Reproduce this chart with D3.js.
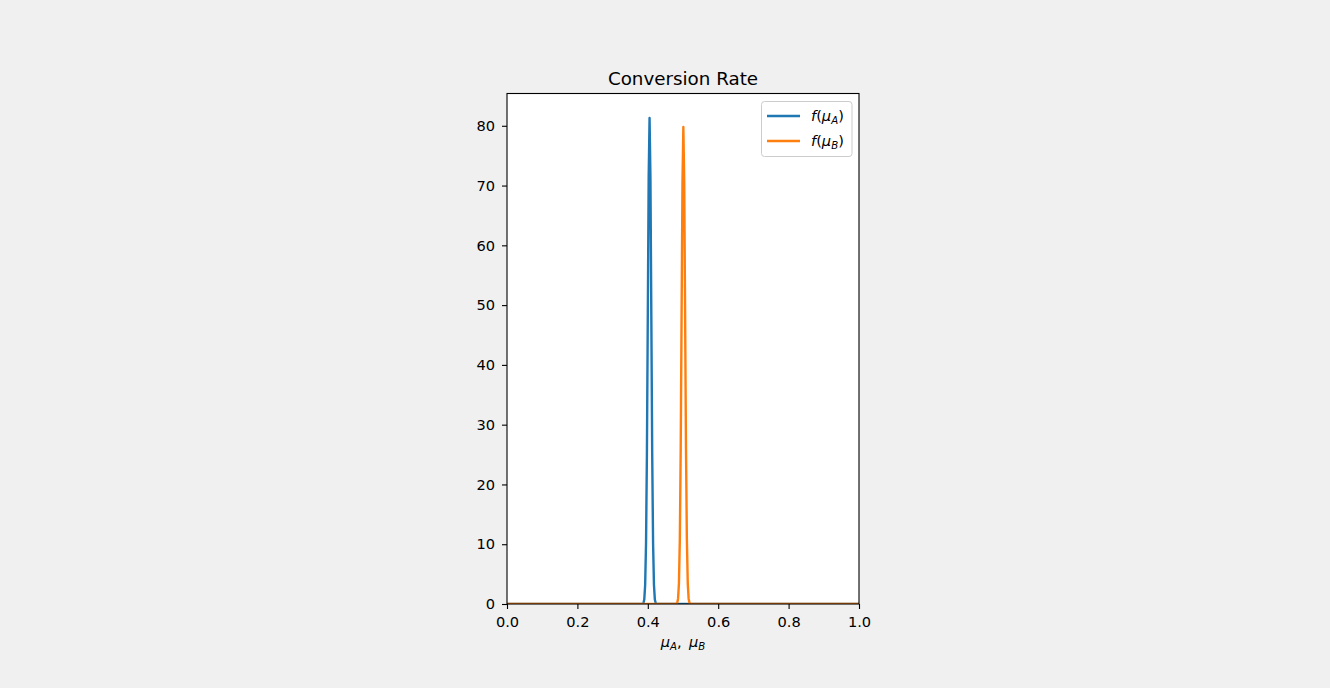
<!DOCTYPE html>
<html>
<head>
<meta charset="utf-8">
<script src="https://cdn.jsdelivr.net/npm/d3@7"></script>
<style>
  body { margin: 0; background: #f0f0f0; }
  svg { display: block; font-family: "DejaVu Sans", sans-serif; }
</style>
</head>
<body>
<div id="chart"></div>
<script>
"use strict";

const WIDTH = 1330;
const HEIGHT = 688;
const MARGIN = { left: 507, right: 1330 - 859, top: 93.5, bottom: 688 - 604 };
const TICK_FONT = "14.6px";
const SUB_FONT = "10.2px";

// Posterior density of conversion rate A
const seriesAX = [0, 0.385, 0.3875, 0.39, 0.3925, 0.395, 0.3975, 0.4, 0.4025, 0.405,
    0.4075, 0.41, 0.4125, 0.415, 0.4175, 0.42, 0.4225, 0.425, 1];
const seriesAY = [0, 0.02, 0.14, 0.75, 3.2, 10.2, 25.2, 48.3, 71.4, 81.3,
    71.4, 48.3, 25.2, 10.2, 3.2, 0.75, 0.14, 0.02, 0];

// Posterior density of conversion rate B
const seriesBX = [0, 0.481, 0.4835, 0.486, 0.4885, 0.491, 0.4935, 0.496, 0.4985, 0.501,
    0.5035, 0.506, 0.5085, 0.511, 0.5135, 0.516, 0.5185, 0.521, 1];
const seriesBY = [0, 0.03, 0.17, 0.89, 3.5, 10.8, 25.9, 48.4, 70.4, 79.8,
    70.4, 48.4, 25.9, 10.8, 3.5, 0.89, 0.17, 0.03, 0];

const xTicks = [0, 0.2, 0.4, 0.6, 0.8, 1.0];
const yTicks = [0, 10, 20, 30, 40, 50, 60, 70, 80];
const seriesNames = ["A", "B"];
const seriesColors = ["#1f77b4", "#ff7f0e"];

const svg = d3.select("#chart")
    .append("svg")
    .attr("width", WIDTH)
    .attr("height", HEIGHT);

const x = d3.scaleLinear()
    .domain([0, 1])
    .range([MARGIN.left, WIDTH - MARGIN.right]);

const y = d3.scaleLinear()
    .domain([0, 85.4])
    .range([HEIGHT - MARGIN.bottom, MARGIN.top]);

// Axes background
svg.append("rect")
    .attr("x", MARGIN.left)
    .attr("y", MARGIN.top)
    .attr("width", x(1) - x(0))
    .attr("height", y(0) - y(85.4))
    .attr("fill", "white");

const series = [
    seriesAX.map((v, i) => [v, seriesAY[i]]),
    seriesBX.map((v, i) => [v, seriesBY[i]])
];

const line = d3.line()
    .x(d => x(d[0]))
    .y(d => y(d[1]));

const plot = svg.append("g");
plot.append("clipPath")
    .attr("id", "clip")
    .append("rect")
    .attr("x", MARGIN.left)
    .attr("y", MARGIN.top)
    .attr("width", x(1) - x(0))
    .attr("height", y(0) - y(85.4));

plot.selectAll(".series")
    .data(series)
    .enter()
    .append("path")
    .classed("series", true)
    .attr("clip-path", "url(#clip)")
    .attr("d", line)
    .attr("fill", "none")
    .attr("stroke", (_, i) => seriesColors[i])
    .attr("stroke-width", 2.4)
    .attr("stroke-linejoin", "round");

// Axes
const xAxis = svg.append("g")
    .attr("transform", `translate(0, ${y(0)})`)
    .call(d3.axisBottom(x).tickValues(xTicks).tickFormat(d3.format(".1f")).tickSize(5).tickPadding(7.5));

const yAxis = svg.append("g")
    .attr("transform", `translate(${x(0)}, 0)`)
    .call(d3.axisLeft(y).tickValues(yTicks).tickFormat(d3.format("d")).tickSize(5).tickPadding(7));

[xAxis, yAxis].forEach(axis => {
    axis.select(".domain").remove();
    axis.selectAll("text")
        .attr("fill", "black")
        .style("font-size", TICK_FONT)
        .style("font-family", "DejaVu Sans");
    axis.selectAll("line").attr("stroke", "black").attr("stroke-width", 1.1);
});

// Spines
svg.append("rect")
    .attr("x", x(0))
    .attr("y", y(85.4))
    .attr("width", x(1) - x(0))
    .attr("height", y(0) - y(85.4))
    .attr("fill", "none")
    .attr("stroke", "black")
    .attr("stroke-width", 1.1);

// Title
svg.append("text")
    .attr("x", (x(0) + x(1)) / 2)
    .attr("y", 85)
    .attr("text-anchor", "middle")
    .style("font-size", "18.3px")
    .text("Conversion Rate");

// x label: mu_A, mu_B
const xLabel = svg.append("text")
    .attr("x", (x(0) + x(1)) / 2)
    .attr("y", 647)
    .attr("text-anchor", "middle")
    .style("font-size", TICK_FONT)
    .style("font-style", "italic");
xLabel.append("tspan").text("μ");
xLabel.append("tspan").attr("dy", 3).style("font-size", SUB_FONT).text("A");
xLabel.append("tspan").attr("dy", -3).style("font-style", "normal").text(",\u2002");
xLabel.append("tspan").text("μ");
xLabel.append("tspan").attr("dy", 3).style("font-size", SUB_FONT).text("B");

// Legend
const legend = svg.append("g")
    .attr("transform", "translate(761.5, 101.5)");

legend.append("rect")
    .attr("width", 90.5)
    .attr("height", 55)
    .attr("rx", 3)
    .attr("fill", "white")
    .attr("fill-opacity", 0.8)
    .attr("stroke", "#cccccc")
    .attr("stroke-width", 1);

const items = legend.selectAll(".legend-item")
    .data(seriesNames)
    .enter()
    .append("g")
    .classed("legend-item", true)
    .attr("transform", (_, i) => `translate(0, ${14.5 + i * 25})`);

items.append("line")
    .attr("x1", 5.5)
    .attr("x2", 38.5)
    .attr("stroke", (_, i) => seriesColors[i])
    .attr("stroke-width", 2.4);

const labels = items.append("text")
    .attr("x", 49.5)
    .attr("y", 5)
    .style("font-size", TICK_FONT);
labels.append("tspan").style("font-style", "italic").text("f");
labels.append("tspan").text("(");
labels.append("tspan").style("font-style", "italic").text("μ");
labels.append("tspan").attr("dy", 3).style("font-size", SUB_FONT).style("font-style", "italic").text(d => d);
labels.append("tspan").attr("dy", -3).text(")");
</script>
</body>
</html>
